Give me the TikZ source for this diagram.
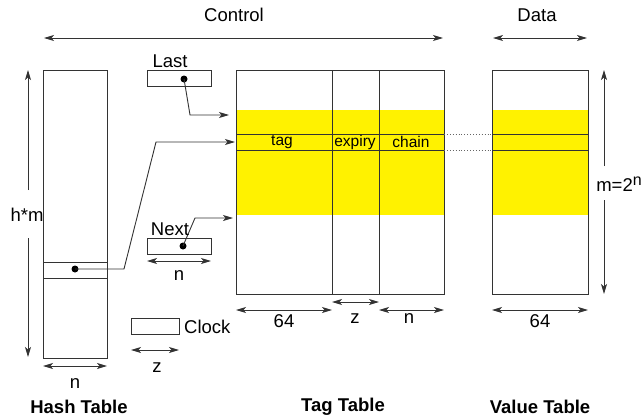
\documentclass[tikz,border=0pt]{standalone}
\usepackage{fontspec}
\setmainfont{Liberation Sans}
\usetikzlibrary{positioning,arrows.meta}

\tikzset{
  box/.style={draw=black!80, line width=1pt, inner sep=0pt, outer sep=0pt, anchor=north west},
  dim/.style={{Stealth[length=10pt,width=6pt,inset=2.5pt]}-{Stealth[length=10pt,width=6pt,inset=2.5pt]}, line width=0.9pt, black!80},
  ptr/.style={-{Stealth[length=10pt,width=6pt,inset=2.5pt]}, line width=0.9pt, black!80},
  sep/.style={line width=1pt, black!80},
  lbl/.style={font=\fontsize{18.5}{22}\selectfont, inner sep=0pt},
  fld/.style={font=\fontsize{15.5}{18}\selectfont, inner sep=0pt},
  ttl/.style={font=\fontsize{18.5}{22}\selectfont\bfseries, inner sep=0pt},
  dot/.style={circle, fill=black, inner sep=0pt, minimum size=7pt}
}

\begin{document}
\begin{tikzpicture}[x=1pt, y=-1pt]
\useasboundingbox (0,0) rectangle (642,418);

% yellow band of used entries
\fill[yellow] (236,110) rectangle (444,215);
\fill[yellow] (492,110) rectangle (588,215);

% tables
\node[box, minimum width=64pt, minimum height=288pt] (hash) at (43,70) {};
\node[box, minimum width=64pt, minimum height=16pt] (slot) at (43,262) {};
\node[box, minimum width=208pt, minimum height=224pt] (tag) at (236,70) {};
\node[box, minimum width=96pt, minimum height=224pt] (value) at (492,70) {};
\draw[sep] (332,70) -- (332,294);
\draw[sep] (379,70) -- (379,294);
\draw[sep] (236,134) -- (444,134) (236,150) -- (444,150);
\draw[sep] (492,134) -- (588,134) (492,150) -- (588,150);
\draw[black!60, dotted, line width=0.9pt] (tag.east |- 0,134) -- (value.west |- 0,134);
\draw[black!60, dotted, line width=0.9pt] (tag.east |- 0,150) -- (value.west |- 0,150);

% registers
\node[box, minimum width=64pt, minimum height=16pt] (last) at (147,70) {};
\node[box, minimum width=64pt, minimum height=16pt] (next) at (147,238) {};
\node[box, minimum width=48pt, minimum height=16pt] (clock) at (131,318) {};

% field names
\node[fld] (ftag) at (282,142) {tag};
\node[fld] (fexp) at (355,142) {expiry};
\node[fld] (fchain) at (411,142) {chain};

% pointers
\node[dot] (hdot) at (75,269) {};
\node[dot] (ldot) at (184,79) {};
\node[dot] (ndot) at (183,246) {};
\coordinate (hend) at (235,142);
\coordinate (lend) at (229,115);
\coordinate (nend) at (233,218);
\draw[ptr] (hdot.center) -- (124,269) -- (156,142) -- (hend);
\draw[ptr] (ldot.center) -- (190,115) -- (lend);
\draw[ptr] (ndot.center) -- (195,218) -- (nend);

% labels of registers
\node[lbl] (lastlbl) at (170,61) {Last};
\node[lbl] (nextlbl) at (170,229) {Next};
\node[lbl, anchor=west] (clocklbl) at (184,327) {Clock};

% sizes
\draw[dim] (hash.south west) ++(0,8) -- ++(64,0);
\node[lbl] (hn) at (75,384) {n};
\draw[dim] (next.south west) ++(0,7) -- ++(64,0);
\node[lbl] (nn) at (179,276) {n};
\draw[dim] (clock.south west) ++(0,16) -- ++(48,0);
\node[lbl] (cz) at (157,368) {z};
\draw[dim] (236,310) -- (332,310);
\node[lbl] (t64) at (284,321) {64};
\draw[dim] (332,302) -- (379,302);
\node[lbl] (tz) at (355,319) {z};
\draw[dim] (379,310) -- (444,310);
\node[lbl] (tn) at (409,319) {n};
\draw[dim] (492,310) -- (588,310);
\node[lbl] (v64) at (540,321) {64};

% heights
\node[lbl] (hm) at (27,215) {h*m};
\draw[ptr] (28,190) -- (28,70);
\draw[ptr] (28,238) -- (28,357);
\node[lbl] (m2n) at (619,184) {m=2\raisebox{6pt}{\fontsize{16}{18}\selectfont n}};
\draw[ptr] (604,166) -- (604,70);
\draw[ptr] (604,200) -- (604,294);

% control / data spans
\node[lbl] (ctl) at (234,15) {Control};
\draw[dim] (44,38) -- (443,38);
\node[lbl] (dat) at (537,15) {Data};
\draw[dim] (493,38) -- (587,38);

% titles
\node[ttl] (htitle) at (79,407) {Hash Table};
\node[ttl] (ttitle) at (343,407) {Tag Table};
\node[ttl] (vtitle) at (540,407) {Value Table};
\end{tikzpicture}
\end{document}
